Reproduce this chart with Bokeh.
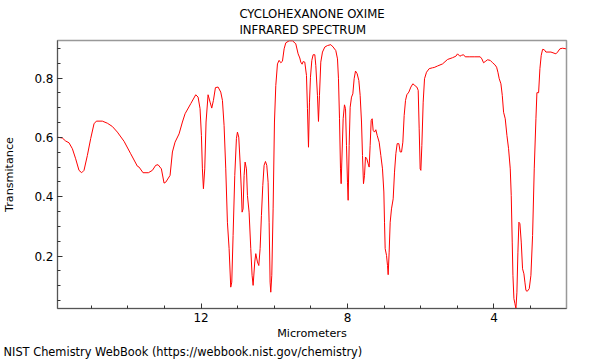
from bokeh.plotting import figure
from bokeh.models import Range1d, Title, FixedTicker
from bokeh.embed import file_html
from bokeh.resources import INLINE

# Spectrum (wavelength in micrometers, transmittance)
wavelength = [
    15.924, 15.788, 15.697, 15.606, 15.514, 15.424, 15.333, 15.260, 15.196, 15.105,
    15.014, 14.923, 14.859, 14.695, 14.558, 14.422, 14.285, 14.103, 13.921, 13.739,
    13.693, 13.584, 13.438, 13.329, 13.238, 13.174, 13.083, 13.010, 12.964, 12.846,
    12.782, 12.710, 12.600, 12.509, 12.436,
    12.281, 12.145, 12.081, 12.027, 11.990, 11.963, 11.935, 11.899, 11.863, 11.808,
    11.753, 11.708, 11.662, 11.607, 11.535, 11.462, 11.416, 11.371, 11.325, 11.280,
    11.234, 11.189, 11.161, 11.125, 11.079, 11.034, 11.006, 10.970, 10.934, 10.897,
    10.879, 10.852, 10.824, 10.797, 10.760, 10.733, 10.688, 10.642, 10.606, 10.578,
    10.533, 10.505, 10.460, 10.423, 10.387, 10.351, 10.314, 10.278, 10.241, 10.205,
    10.169, 10.141, 10.114, 10.096, 10.068, 10.032, 9.995, 9.959, 9.913, 9.868,
    9.822, 9.777, 9.731, 9.686, 9.595, 9.504, 9.413, 9.349, 9.303, 9.276,
    9.240, 9.212, 9.167, 9.121, 9.094, 9.066, 9.039, 9.012,
    8.975, 8.939, 8.893, 8.866, 8.821, 8.793, 8.766, 8.730, 8.684, 8.620,
    8.547, 8.456, 8.393, 8.320, 8.274, 8.247, 8.219, 8.192, 8.174, 8.156,
    8.119, 8.083, 8.055, 8.028, 8.001, 7.983, 7.955, 7.928, 7.891, 7.855,
    7.819, 7.782, 7.737, 7.691, 7.655, 7.618, 7.591, 7.564, 7.536, 7.509,
    7.473, 7.436, 7.409, 7.382, 7.354, 7.327, 7.300, 7.263, 7.227, 7.190,
    7.136, 7.090, 7.045, 7.008, 6.990, 6.972, 6.935, 6.908, 6.890, 6.863,
    6.835, 6.799, 6.753, 6.717, 6.680, 6.644, 6.598, 6.562, 6.525, 6.489,
    6.453, 6.416, 6.380, 6.325, 6.270, 6.216, 6.161, 6.107, 6.070, 6.043,
    6.016, 5.997, 5.970, 5.934, 5.897, 5.843, 5.770, 5.679,
    5.633, 5.542, 5.405, 5.269, 5.132, 5.041, 4.995, 4.932, 4.886, 4.832,
    4.786, 4.677, 4.541, 4.377, 4.331, 4.285, 4.240, 4.176, 4.103, 4.039,
    3.975, 3.929, 3.893, 3.857, 3.811, 3.774, 3.738, 3.693, 3.647, 3.602,
    3.556, 3.529, 3.502, 3.483, 3.456, 3.428, 3.401, 3.374, 3.347, 3.320,
    3.292, 3.256, 3.220, 3.183, 3.156, 3.128, 3.092, 3.037, 2.992, 2.946,
    2.901, 2.855, 2.828, 2.782, 2.746, 2.710, 2.673, 2.628, 2.582, 2.445,
    2.309, 2.263, 2.200, 2.127, 2.036,
]
transmittance = [
    0.601, 0.598, 0.588, 0.582, 0.562, 0.528, 0.489, 0.481, 0.489, 0.539,
    0.596, 0.646, 0.655, 0.655, 0.648, 0.637, 0.618, 0.587, 0.545, 0.503,
    0.500, 0.481, 0.481, 0.489, 0.506, 0.508, 0.494, 0.446, 0.449, 0.472,
    0.551, 0.584, 0.612, 0.652, 0.680,
    0.714, 0.744, 0.736, 0.697, 0.607, 0.494, 0.427, 0.494, 0.652, 0.744,
    0.719, 0.699, 0.725, 0.768, 0.770, 0.753, 0.725, 0.640, 0.494, 0.314,
    0.225, 0.095, 0.112, 0.269, 0.472, 0.596, 0.618, 0.601, 0.517, 0.416,
    0.348, 0.359, 0.472, 0.517, 0.494, 0.404, 0.348, 0.225, 0.135, 0.101,
    0.180, 0.208, 0.180, 0.168, 0.225, 0.337, 0.438, 0.506, 0.519, 0.506,
    0.449, 0.314, 0.112, 0.078, 0.135, 0.359, 0.652, 0.775, 0.848, 0.860,
    0.852, 0.857, 0.899, 0.919, 0.926, 0.926, 0.916, 0.882, 0.868, 0.854,
    0.847, 0.856, 0.854, 0.809, 0.697, 0.567, 0.719, 0.803,
    0.860, 0.879, 0.879, 0.843, 0.742, 0.654, 0.742, 0.854, 0.888, 0.905,
    0.910, 0.913, 0.905, 0.893, 0.865, 0.798, 0.663, 0.494, 0.444, 0.517,
    0.663, 0.710, 0.697, 0.573, 0.449, 0.388, 0.573, 0.702, 0.736, 0.747,
    0.798, 0.824, 0.815, 0.792, 0.742, 0.652, 0.539, 0.444, 0.472, 0.534,
    0.528, 0.511, 0.500, 0.573, 0.657, 0.663, 0.624, 0.618, 0.626, 0.607,
    0.584, 0.539, 0.494, 0.416, 0.314, 0.225, 0.202, 0.168, 0.137, 0.213,
    0.314, 0.359, 0.393, 0.483, 0.545, 0.579, 0.579, 0.551, 0.551, 0.584,
    0.674, 0.725, 0.744, 0.753, 0.770, 0.781, 0.775, 0.770, 0.759, 0.629,
    0.494, 0.489, 0.573, 0.719, 0.798, 0.820, 0.832, 0.835,
    0.836, 0.841, 0.848, 0.863, 0.869, 0.874, 0.882, 0.874, 0.877, 0.879,
    0.872, 0.872, 0.872, 0.872, 0.865, 0.852, 0.856, 0.862, 0.860, 0.852,
    0.845, 0.837, 0.820, 0.798, 0.781, 0.742, 0.685, 0.663, 0.607, 0.562,
    0.494, 0.404, 0.247, 0.135, 0.056, 0.039, 0.023, 0.078, 0.213, 0.314,
    0.309, 0.247, 0.157, 0.140, 0.112, 0.084, 0.081, 0.090, 0.135, 0.269,
    0.494, 0.663, 0.751, 0.751, 0.832, 0.877, 0.897, 0.896, 0.888, 0.888,
    0.882, 0.888, 0.899, 0.901, 0.899,
]

x_major = [4, 8, 12]
x_minor = [3, 5, 6, 7, 9, 10, 11, 13, 14, 15]
y_major = [0.2, 0.4, 0.6, 0.8]
y_minor = [round(0.05 * i, 2) for i in range(1, 19)]

title_lines = ["CYCLOHEXANONE OXIME", "INFRARED SPECTRUM"]
x_label = "Micrometers"
y_label = "Transmitance"
footer = "NIST Chemistry WebBook (https://webbook.nist.gov/chemistry)"

FONT = "DejaVu Sans"

p = figure(
    width=600, height=360,
    output_backend="svg", toolbar_location=None,
    x_range=Range1d(15.92, 2.02), y_range=Range1d(0.023, 0.927),
    min_border_left=57, min_border_right=34, min_border_top=40, min_border_bottom=52,
    title="\n".join(title_lines),
)
p.title.align = "center"
p.title.text_font = FONT
p.title.text_font_size = "11.7px"
p.title.text_font_style = "normal"
p.title.text_color = "#000000"
p.title.text_line_height = 1.15
p.title.standoff = 7

foot = Title(text=footer, align="left", text_font=FONT, text_font_size="11.4px",
             text_font_style="normal", text_color="#000000", offset=-54, standoff=0)
p.add_layout(foot, "below")

p.line(wavelength, transmittance, line_color="#ff0000", line_width=1)

p.xgrid.visible = False
p.ygrid.visible = False
p.background_fill_color = "white"
p.border_fill_color = "white"
p.outline_line_color = "#999999"
p.outline_line_width = 1.5

for ax in (p.xaxis[0], p.yaxis[0]):
    ax.major_tick_in = 5
    ax.major_tick_out = 0
    ax.minor_tick_in = 3
    ax.minor_tick_out = 0
    ax.axis_line_color = "#555555"
    ax.major_tick_line_color = "#333333"
    ax.minor_tick_line_color = "#333333"
    ax.major_label_text_font = FONT
    ax.major_label_text_font_size = "12px"
    ax.major_label_text_color = "#000000"
    ax.axis_label_text_font = FONT
    ax.axis_label_text_font_size = "11.2px"
    ax.axis_label_text_font_style = "normal"
    ax.axis_label_text_color = "#000000"
    ax.major_label_standoff = 4

p.xaxis[0].ticker = FixedTicker(ticks=x_major, minor_ticks=x_minor)
p.yaxis[0].ticker = FixedTicker(ticks=y_major, minor_ticks=y_minor)
p.xaxis[0].axis_label = x_label
p.yaxis[0].axis_label = y_label
p.xaxis[0].axis_label_standoff = 2
p.yaxis[0].axis_label_standoff = 15

open("out.html", "w").write(file_html(p, INLINE))
